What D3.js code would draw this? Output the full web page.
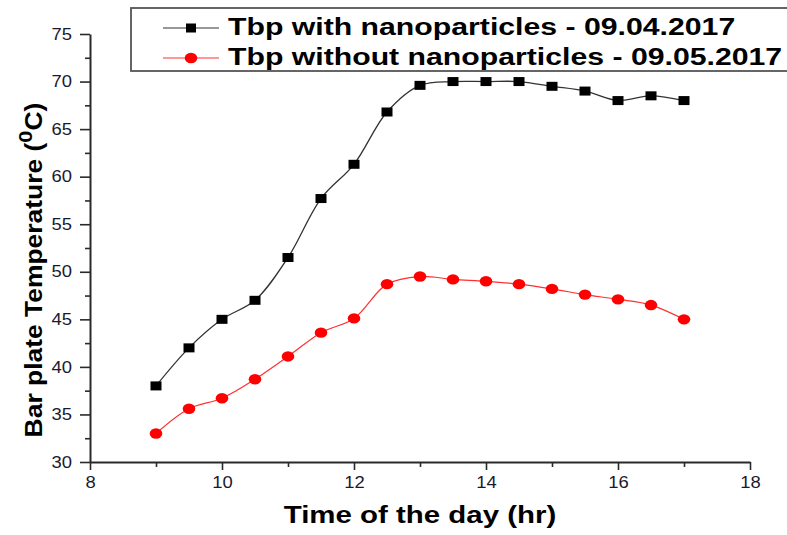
<!DOCTYPE html>
<html>
<head>
<meta charset="utf-8">
<script src="https://cdn.jsdelivr.net/npm/d3@7"></script>
<style>
  body { margin: 0; background: #fff; }
  svg text { font-family: "Liberation Sans", Arial, sans-serif; }
</style>
</head>
<body>
<svg id="viz" width="787" height="535"></svg>
<script>
// time of day (hr)
var hours = [9, 9.5, 10, 10.5, 11, 11.5, 12, 12.5, 13, 13.5, 14, 14.5, 15, 15.5, 16, 16.5, 17];
// bar plate temperature, with nanoparticles (09.04.2017)
var withNano = [38, 42, 45, 47, 51.5, 57.7, 61.3, 66.8, 69.6, 70, 70, 70, 69.5, 69, 68, 68.5, 68];
// bar plate temperature, without nanoparticles (09.05.2017)
var withoutNano = [33, 35.6, 36.7, 38.7, 41.1, 43.6, 45.1, 48.7, 49.5, 49.2, 49, 48.7, 48.2, 47.6, 47.1, 46.5, 45];
var xTicks = [8, 10, 12, 14, 16, 18];
var yTicks = [30, 35, 40, 45, 50, 55, 60, 65, 70, 75];
var seriesNames = ["Tbp with nanoparticles - 09.04.2017", "Tbp without nanoparticles - 09.05.2017"];

var svg = d3.select("#viz");
var x = d3.scaleLinear().domain([8, 18]).range([90, 750]);
var y = d3.scaleLinear().domain([30, 75]).range([462, 34]);
var STRETCH = 1.28; // the picture is wider than its fonts

// AXES
svg.append("g").attr("transform", "translate(0,462)")
  .call(d3.axisBottom(x).tickValues(xTicks).tickSize(8).tickSizeOuter(0).tickPadding(7));
svg.append("g").attr("transform", "translate(0,462)")
  .call(d3.axisBottom(x).tickValues(d3.range(9, 18, 2)).tickSize(5).tickFormat(""))
  .select(".domain").remove();
svg.append("g").attr("transform", "translate(90,0)")
  .call(d3.axisLeft(y).tickValues(yTicks).tickSize(10).tickSizeOuter(0).tickPadding(8));
svg.append("g").attr("transform", "translate(90,0)")
  .call(d3.axisLeft(y).tickValues(d3.range(32.5, 75, 5)).tickSize(5).tickFormat(""))
  .select(".domain").remove();

svg.selectAll(".domain").attr("stroke", "#2a2a2a").attr("stroke-width", 2);
svg.selectAll(".tick line").attr("stroke", "#2a2a2a").attr("stroke-width", 1.6);
svg.selectAll(".tick text").attr("fill", "#1a1a2e")
  .style("font-size", "16px").style("font-family", "Liberation Sans, Arial, sans-serif")
  .each(function () {
    var w = this.getComputedTextLength();
    d3.select(this).attr("textLength", w * 1.15).attr("lengthAdjust", "spacingAndGlyphs");
  });

// AXIS TITLES
svg.append("g").attr("transform", "translate(420,523) scale(" + STRETCH + ",1)")
  .append("text")
  .attr("text-anchor", "middle")
  .style("font-size", "23px").style("font-weight", "bold")
  .text("Time of the day (hr)");

var yTitle = svg.append("g").attr("transform", "translate(42,270) rotate(-90) scale(1.15,1)")
  .append("text")
  .attr("text-anchor", "middle")
  .style("font-size", "23px").style("font-weight", "bold");
yTitle.append("tspan").text("Bar plate Temperature (");
yTitle.append("tspan").attr("dy", -10).style("font-size", "19px").text("0");
yTitle.append("tspan").attr("dy", 10).text("C)");

// LINES
var line = d3.line().curve(d3.curveCatmullRom.alpha(0.5))
  .x(function (d) { return x(d[0]); })
  .y(function (d) { return y(d[1]); });

var blackData = hours.map(function (h, i) { return [h, withNano[i]]; });
var redData = hours.map(function (h, i) { return [h, withoutNano[i]]; });

svg.append("path").datum(blackData).attr("d", line)
  .attr("fill", "none").attr("stroke", "#333").attr("stroke-width", 1.3);
svg.append("path").datum(redData).attr("d", line)
  .attr("fill", "none").attr("stroke", "#ff3030").attr("stroke-width", 1.2);

svg.selectAll(".sq").data(blackData).enter().append("rect")
  .attr("class", "sq")
  .attr("x", function (d) { return x(d[0]) - 5.5; })
  .attr("y", function (d) { return y(d[1]) - 4.5; })
  .attr("width", 11).attr("height", 9)
  .attr("fill", "#000");
svg.selectAll(".dot").data(redData).enter().append("ellipse")
  .attr("class", "dot")
  .attr("cx", function (d) { return x(d[0]); })
  .attr("cy", function (d) { return y(d[1]); })
  .attr("rx", 6.3).attr("ry", 5.2)
  .attr("fill", "#ff0000");

// LEGEND
var legend = svg.append("g");
legend.append("rect")
  .attr("x", 131).attr("y", 8).attr("width", 670).attr("height", 63)
  .attr("fill", "#fff").attr("stroke", "#555").attr("stroke-width", 1.8);
var rows = [{ color: "#333", shape: "sq" }, { color: "#ff3030", shape: "dot" }];
rows.forEach(function (r, i) {
  var ly = 28 + i * 30;
  legend.append("line").attr("x1", 163).attr("x2", 219).attr("y1", ly).attr("y2", ly)
    .attr("stroke", r.color).attr("stroke-width", 1.2);
  if (r.shape === "sq") {
    legend.append("rect").attr("x", 186).attr("y", ly - 4.5).attr("width", 10).attr("height", 9).attr("fill", "#000");
  } else {
    legend.append("ellipse").attr("cx", 191).attr("cy", ly).attr("rx", 6.3).attr("ry", 5.2).attr("fill", "#ff0000");
  }
  legend.append("g").attr("transform", "translate(228," + (ly + 7) + ") scale(1.26,1)")
    .append("text")
    .style("font-size", "24px").style("font-weight", "bold")
    .text(seriesNames[i]);
});
</script>
</body>
</html>
